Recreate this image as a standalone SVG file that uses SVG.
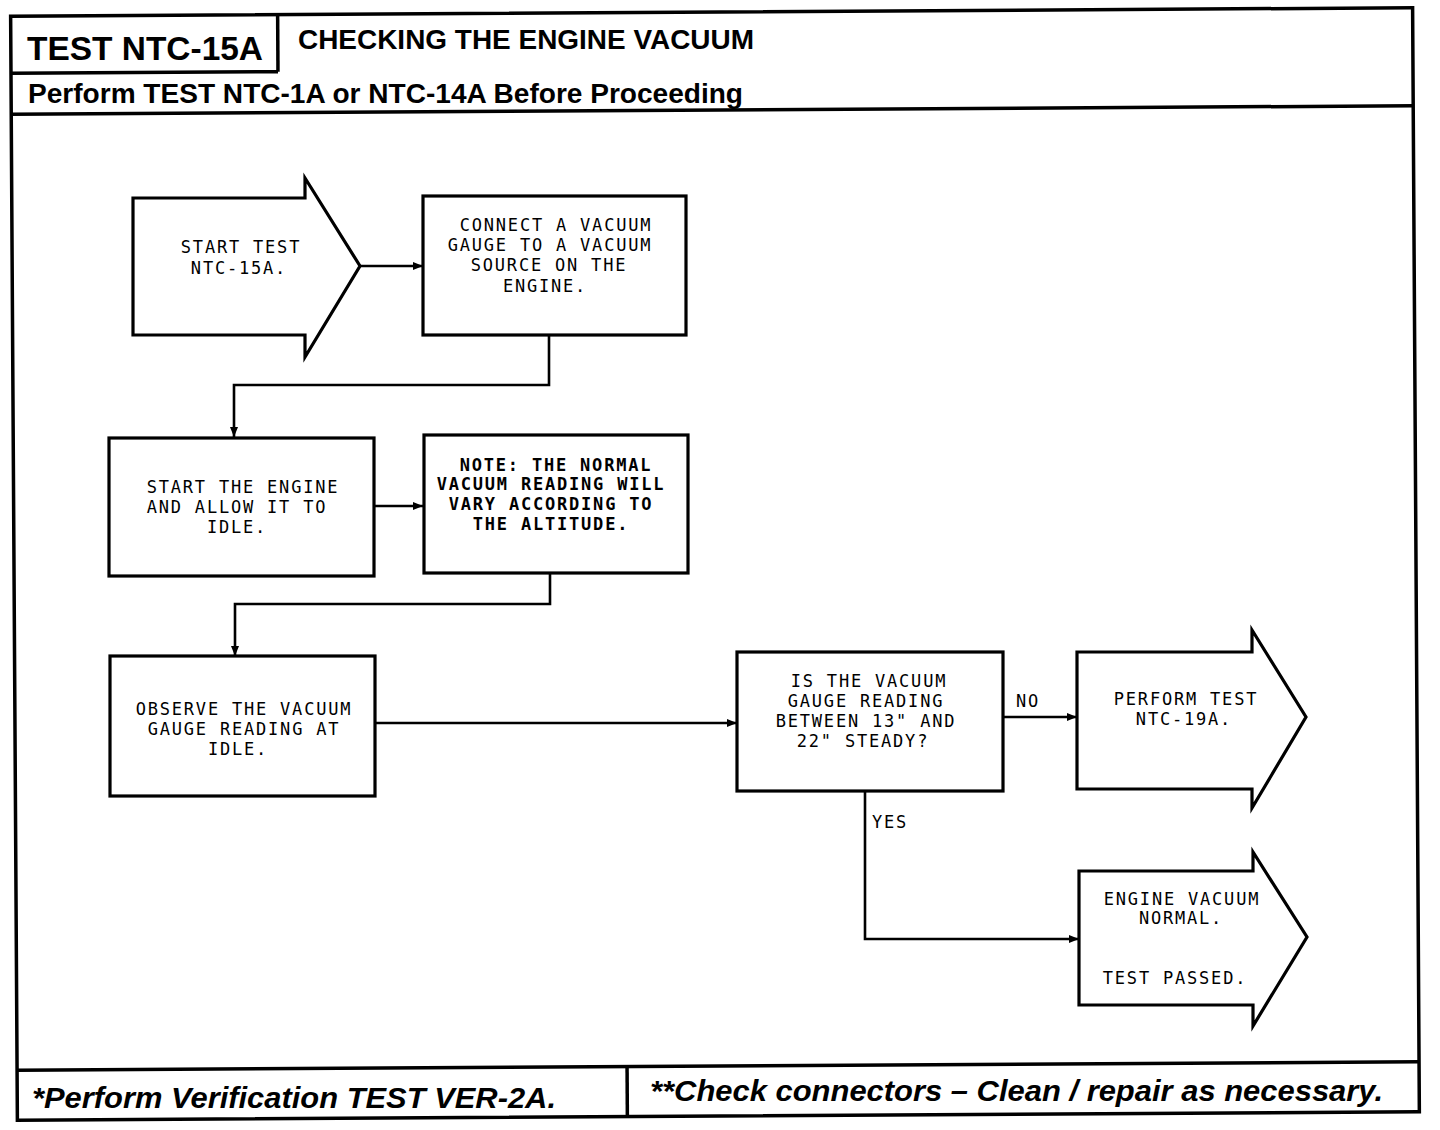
<svg xmlns="http://www.w3.org/2000/svg" width="1440" height="1130" viewBox="0 0 1440 1130">
<defs>
<marker id="ah" viewBox="0 0 10 8" refX="10" refY="4" markerWidth="10" markerHeight="8" markerUnits="userSpaceOnUse" orient="auto">
<path d="M0,0 L10,4 L0,8 Z" fill="#000"/>
</marker>
<style>
.frame{fill:none;stroke:#000;stroke-width:3.5}
.box{fill:#fff;stroke:#000;stroke-width:3.2;stroke-linejoin:miter}
.conn{fill:none;stroke:#000;stroke-width:2.6}
.t{font-family:"DejaVu Sans Mono","Liberation Mono",monospace;font-size:17px;letter-spacing:1.8px;fill:#000;text-anchor:middle}
.tb{font-weight:bold}
.lbl{font-family:"DejaVu Sans Mono","Liberation Mono",monospace;font-size:17px;letter-spacing:1.8px;fill:#000}
.h{font-family:"Liberation Sans",Arial,sans-serif;font-weight:bold;fill:#000}
.f{font-family:"Liberation Sans",Arial,sans-serif;font-weight:bold;font-style:italic;fill:#000}
</style>
</defs>
<rect width="1440" height="1130" fill="#fff"/>
<g id="frame" transform="rotate(-0.35 720 565)">
<rect class="frame" x="14" y="12" width="1402" height="1104"/>
<line class="frame" x1="14" y1="69" x2="281" y2="69"/>
<line class="frame" x1="281" y1="12" x2="281" y2="69"/>
<line class="frame" x1="14" y1="110" x2="1416" y2="110"/>
<line class="frame" x1="14" y1="1066" x2="1416" y2="1066"/>
<line class="frame" x1="624" y1="1066" x2="624" y2="1116"/>
</g>
<g id="header">
<text class="h" x="27" y="60" font-size="34" textLength="236" lengthAdjust="spacingAndGlyphs">TEST NTC-15A</text>
<text class="h" x="298" y="49" font-size="28" textLength="456" lengthAdjust="spacingAndGlyphs">CHECKING THE ENGINE VACUUM</text>
<text class="h" x="28" y="103" font-size="27" textLength="715" lengthAdjust="spacingAndGlyphs">Perform TEST NTC-1A or NTC-14A Before Proceeding</text>
</g>
<g id="footer">
<text class="f" x="32" y="1108" font-size="29" textLength="524" lengthAdjust="spacingAndGlyphs">*Perform Verification TEST VER-2A.</text>
<text class="f" x="650" y="1101" font-size="29" textLength="733" lengthAdjust="spacingAndGlyphs">**Check connectors – Clean / repair as necessary.</text>
</g>
<g id="connectors">
<line class="conn" x1="360" y1="266" x2="423" y2="266" marker-end="url(#ah)"/>
<polyline class="conn" points="549,335 549,385 234,385 234,437" marker-end="url(#ah)"/>
<line class="conn" x1="374" y1="506" x2="423" y2="506" marker-end="url(#ah)"/>
<polyline class="conn" points="550,573 550,604 235,604 235,656" marker-end="url(#ah)"/>
<line class="conn" x1="375" y1="723" x2="737" y2="723" marker-end="url(#ah)"/>
<line class="conn" x1="1003" y1="717" x2="1077" y2="717" marker-end="url(#ah)"/>
<polyline class="conn" points="865,791 865,939 1079,939" marker-end="url(#ah)"/>
<text class="lbl" x="1016" y="707">NO</text>
<text class="lbl" x="872" y="828">YES</text>
</g>
<g id="start">
<polygon class="box" points="133,198 305,198 305,178 360,266 305,357 305,335 133,335"/>
<text class="t" x="241" y="253">START TEST</text>
<text class="t" x="239" y="274">NTC-15A.</text>
</g>
<g id="connect">
<rect class="box" x="423" y="196" width="263" height="139"/>
<text class="t" x="556" y="231">CONNECT A VACUUM</text>
<text class="t" x="550" y="251">GAUGE TO A VACUUM</text>
<text class="t" x="549" y="271">SOURCE ON THE</text>
<text class="t" x="545" y="292">ENGINE.</text>
</g>
<g id="startengine">
<rect class="box" x="109" y="438" width="265" height="138"/>
<text class="t" x="243" y="493">START THE ENGINE</text>
<text class="t" x="237" y="513">AND ALLOW IT TO</text>
<text class="t" x="237" y="533">IDLE.</text>
</g>
<g id="note">
<rect class="box" x="424" y="435" width="264" height="138"/>
<text class="t tb" x="556" y="471">NOTE: THE NORMAL</text>
<text class="t tb" x="551" y="490">VACUUM READING WILL</text>
<text class="t tb" x="551" y="510">VARY ACCORDING TO</text>
<text class="t tb" x="551" y="530">THE ALTITUDE.</text>
</g>
<g id="observe">
<rect class="box" x="110" y="656" width="265" height="140"/>
<text class="t" x="244" y="715">OBSERVE THE VACUUM</text>
<text class="t" x="244" y="735">GAUGE READING AT</text>
<text class="t" x="238" y="755">IDLE.</text>
</g>
<g id="decision">
<rect class="box" x="737" y="652" width="266" height="139"/>
<text class="t" x="869" y="687">IS THE VACUUM</text>
<text class="t" x="866" y="707">GAUGE READING</text>
<text class="t" x="866" y="727">BETWEEN 13" AND</text>
<text class="t" x="863" y="747">22" STEADY?</text>
</g>
<g id="perform">
<polygon class="box" points="1077,652 1252,652 1252,630 1306,717 1252,808 1252,789 1077,789"/>
<text class="t" x="1186" y="705">PERFORM TEST</text>
<text class="t" x="1184" y="725">NTC-19A.</text>
</g>
<g id="passed">
<polygon class="box" points="1079,871 1253,871 1253,852 1307,937 1253,1026 1253,1005 1079,1005"/>
<text class="t" x="1182" y="905">ENGINE VACUUM</text>
<text class="t" x="1181" y="924">NORMAL.</text>
<text class="t" x="1175" y="984">TEST PASSED.</text>
</g>
</svg>
